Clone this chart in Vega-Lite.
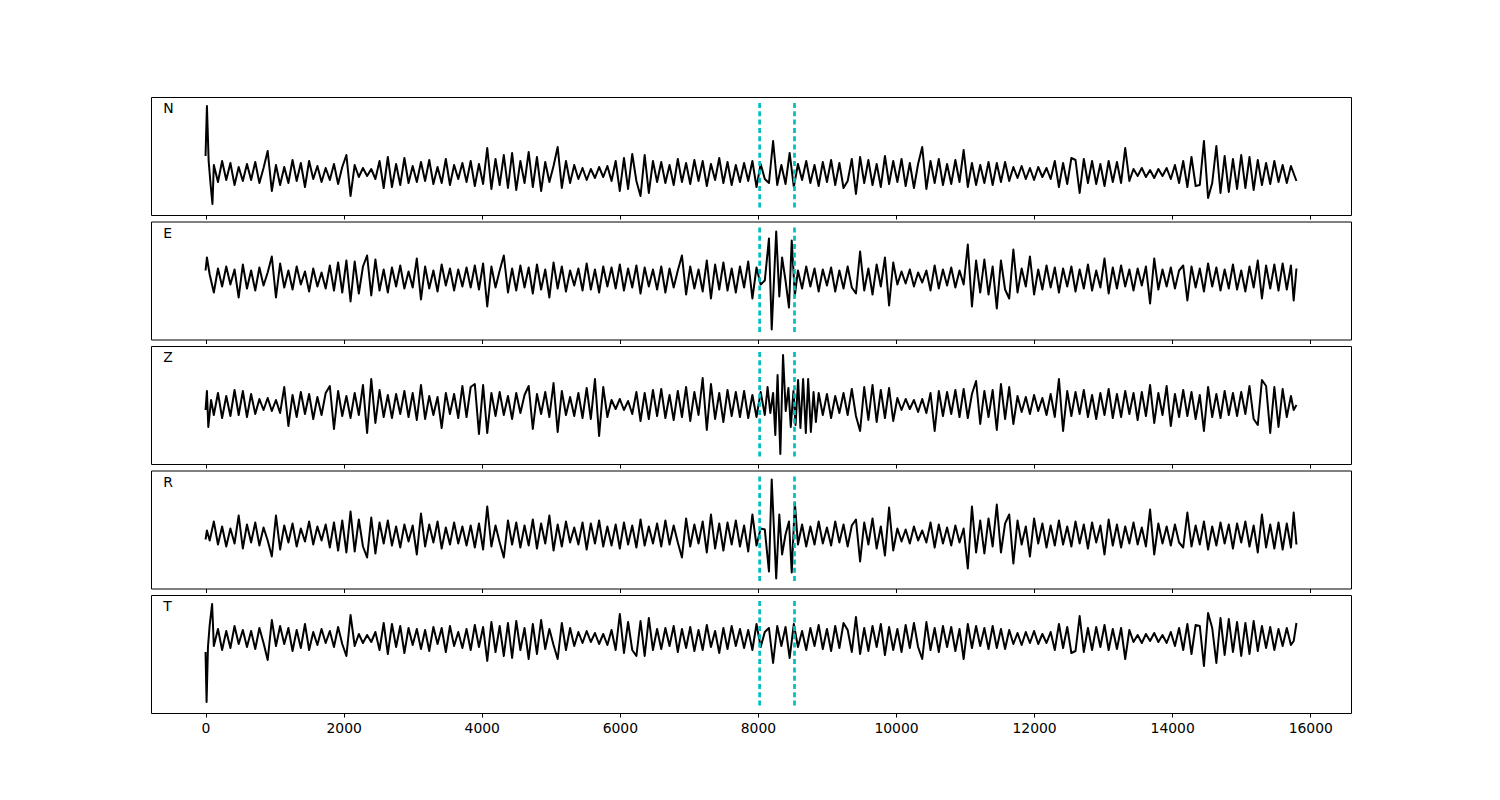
{
"$schema": "https://vega.github.io/schema/vega-lite/v6.json",
"padding": {"left": 150, "top": 96, "right": 0, "bottom": 0},
"background": "white",
"bounds": "flush",
"spacing": 6.5,
"config": {
  "view": {"stroke": "black", "strokeWidth": 1},
  "axis": {"domain": false, "grid": false, "ticks": true, "tickSize": 4, "tickColor": "black", "tickWidth": 1, "labelFont": "DejaVu Sans", "labelFontSize": 13.9, "labelColor": "black", "labelPadding": 4, "labelFlush": false}
},
"resolve": {"scale": {"x": "independent", "y": "independent"}},
"datasets": {
"N": [{"t":0,"v":17},{"t":20,"v":67},{"t":45,"v":12},{"t":75,"v":-13},{"t":100,"v":-31},
{"t":120,"v":8},{"t":180,"v":-9},{"t":240,"v":12},{"t":300,"v":-7},{"t":360,"v":10},{"t":420,"v":-12},{"t":480,"v":6},{"t":540,"v":-8},
{"t":600,"v":9},{"t":660,"v":-7},{"t":720,"v":11},{"t":780,"v":-10},{"t":840,"v":5},{"t":900,"v":22},{"t":960,"v":-18},{"t":1020,"v":8},{"t":1080,"v":-12},{"t":1140,"v":6},
{"t":1200,"v":-10},{"t":1260,"v":13},{"t":1320,"v":-8},{"t":1380,"v":10},{"t":1440,"v":-14},{"t":1500,"v":12},{"t":1560,"v":-6},{"t":1620,"v":7},{"t":1680,"v":-9},{"t":1740,"v":5},
{"t":1800,"v":-7},{"t":1860,"v":9},{"t":1920,"v":-11},{"t":1980,"v":6},{"t":2040,"v":18},{"t":2100,"v":-23},{"t":2160,"v":8},{"t":2220,"v":-4},{"t":2280,"v":5},{"t":2340,"v":-3},
{"t":2400,"v":4},{"t":2460,"v":-6},{"t":2520,"v":12},{"t":2580,"v":-15},{"t":2640,"v":16},{"t":2700,"v":-14},{"t":2760,"v":9},{"t":2820,"v":-12},{"t":2880,"v":15},{"t":2940,"v":-10},
{"t":3000,"v":7},{"t":3060,"v":-9},{"t":3120,"v":11},{"t":3180,"v":-8},{"t":3240,"v":13},{"t":3300,"v":-11},{"t":3360,"v":6},{"t":3420,"v":-10},{"t":3480,"v":14},{"t":3540,"v":-12},
{"t":3600,"v":8},{"t":3660,"v":-6},{"t":3720,"v":10},{"t":3780,"v":-9},{"t":3840,"v":12},{"t":3900,"v":-13},{"t":3960,"v":9},{"t":4020,"v":-11},{"t":4080,"v":25},{"t":4140,"v":-16},
{"t":4200,"v":14},{"t":4260,"v":-12},{"t":4320,"v":18},{"t":4380,"v":-15},{"t":4440,"v":20},{"t":4500,"v":-17},{"t":4560,"v":12},{"t":4620,"v":-10},{"t":4680,"v":21},{"t":4740,"v":-14},
{"t":4800,"v":16},{"t":4860,"v":-18},{"t":4920,"v":11},{"t":4980,"v":-9},{"t":5040,"v":7},{"t":5100,"v":26},{"t":5160,"v":-15},{"t":5220,"v":12},{"t":5280,"v":-10},{"t":5340,"v":8},
{"t":5400,"v":-6},{"t":5460,"v":5},{"t":5520,"v":-7},{"t":5580,"v":4},{"t":5640,"v":-5},{"t":5700,"v":6},{"t":5760,"v":-4},{"t":5820,"v":7},{"t":5880,"v":-8},{"t":5940,"v":12},
{"t":6000,"v":-18},{"t":6060,"v":15},{"t":6120,"v":-16},{"t":6180,"v":19},{"t":6240,"v":-8},{"t":6300,"v":-23},{"t":6360,"v":18},{"t":6420,"v":-20},{"t":6480,"v":12},{"t":6540,"v":-9},
{"t":6600,"v":11},{"t":6660,"v":-10},{"t":6720,"v":8},{"t":6780,"v":-12},{"t":6840,"v":14},{"t":6900,"v":-9},{"t":6960,"v":10},{"t":7020,"v":-11},{"t":7080,"v":13},{"t":7140,"v":-8},
{"t":7200,"v":12},{"t":7260,"v":-13},{"t":7320,"v":9},{"t":7380,"v":-7},{"t":7440,"v":15},{"t":7500,"v":-10},{"t":7560,"v":11},{"t":7620,"v":-12},{"t":7680,"v":8},{"t":7740,"v":-9},
{"t":7800,"v":10},{"t":7860,"v":-8},{"t":7920,"v":12},{"t":7980,"v":-14},{"t":8040,"v":9},{"t":8100,"v":-6},{"t":8160,"v":-10},{"t":8220,"v":32},{"t":8280,"v":-12},{"t":8340,"v":8},
{"t":8400,"v":-11},{"t":8460,"v":20},{"t":8520,"v":-14},{"t":8580,"v":9},{"t":8640,"v":-7},{"t":8700,"v":12},{"t":8760,"v":-10},{"t":8820,"v":8},{"t":8880,"v":-13},{"t":8940,"v":11},
{"t":9000,"v":-9},{"t":9060,"v":13},{"t":9120,"v":-12},{"t":9180,"v":10},{"t":9240,"v":-15},{"t":9300,"v":-8},{"t":9360,"v":14},{"t":9420,"v":-21},{"t":9480,"v":16},{"t":9540,"v":-10},
{"t":9600,"v":13},{"t":9660,"v":-12},{"t":9720,"v":9},{"t":9780,"v":-14},{"t":9840,"v":17},{"t":9900,"v":-11},{"t":9960,"v":12},{"t":10020,"v":-9},{"t":10080,"v":14},{"t":10140,"v":-13},
{"t":10200,"v":10},{"t":10260,"v":-15},{"t":10320,"v":9},{"t":10380,"v":26},{"t":10440,"v":-16},{"t":10500,"v":12},{"t":10560,"v":-10},{"t":10620,"v":14},{"t":10680,"v":-12},{"t":10740,"v":9},
{"t":10800,"v":-11},{"t":10860,"v":13},{"t":10920,"v":-9},{"t":10980,"v":23},{"t":11040,"v":-14},{"t":11100,"v":10},{"t":11160,"v":-12},{"t":11220,"v":8},{"t":11280,"v":-10},{"t":11340,"v":11},
{"t":11400,"v":-12},{"t":11460,"v":10},{"t":11520,"v":-9},{"t":11580,"v":11},{"t":11640,"v":-8},{"t":11700,"v":6},{"t":11760,"v":-5},{"t":11820,"v":7},{"t":11880,"v":-6},{"t":11940,"v":5},
{"t":12000,"v":-7},{"t":12060,"v":6},{"t":12120,"v":-4},{"t":12180,"v":5},{"t":12240,"v":-6},{"t":12300,"v":12},{"t":12360,"v":-14},{"t":12420,"v":10},{"t":12480,"v":-11},{"t":12540,"v":15},
{"t":12600,"v":13},{"t":12660,"v":-20},{"t":12720,"v":14},{"t":12780,"v":-10},{"t":12840,"v":12},{"t":12900,"v":-11},{"t":12960,"v":9},{"t":13020,"v":-13},{"t":13080,"v":12},{"t":13140,"v":-9},
{"t":13200,"v":11},{"t":13260,"v":-10},{"t":13320,"v":25},{"t":13380,"v":-8},{"t":13440,"v":4},{"t":13500,"v":-3},{"t":13560,"v":5},{"t":13620,"v":-4},{"t":13680,"v":3},{"t":13740,"v":-5},
{"t":13800,"v":4},{"t":13860,"v":-3},{"t":13920,"v":5},{"t":13980,"v":-6},{"t":14040,"v":8},{"t":14100,"v":-10},{"t":14160,"v":12},{"t":14220,"v":-14},{"t":14280,"v":16},{"t":14340,"v":-13},
{"t":14400,"v":-12},{"t":14460,"v":32},{"t":14520,"v":-25},{"t":14580,"v":-10},{"t":14640,"v":27},{"t":14700,"v":-20},{"t":14760,"v":17},{"t":14820,"v":-19},{"t":14880,"v":14},{"t":14940,"v":-16},
{"t":15000,"v":18},{"t":15060,"v":-15},{"t":15120,"v":16},{"t":15180,"v":-17},{"t":15240,"v":13},{"t":15300,"v":-12},{"t":15360,"v":10},{"t":15420,"v":-11},{"t":15480,"v":12},{"t":15540,"v":-9},
{"t":15600,"v":8},{"t":15660,"v":-10},{"t":15720,"v":7},{"t":15800,"v":-8}],
"E": [{"t":0,"v":8},{"t":20,"v":21},{"t":60,"v":4},{"t":120,"v":-14},
{"t":180,"v":10},{"t":240,"v":-8},{"t":300,"v":12},{"t":360,"v":-6},{"t":420,"v":9},{"t":480,"v":-19},{"t":540,"v":14},
{"t":600,"v":-10},{"t":660,"v":8},{"t":720,"v":-12},{"t":780,"v":11},{"t":840,"v":-7},{"t":900,"v":6},{"t":960,"v":22},{"t":1020,"v":-19},{"t":1080,"v":15},{"t":1140,"v":-9},
{"t":1200,"v":8},{"t":1260,"v":-11},{"t":1320,"v":12},{"t":1380,"v":-6},{"t":1440,"v":7},{"t":1500,"v":-13},{"t":1560,"v":10},{"t":1620,"v":-8},{"t":1680,"v":6},{"t":1740,"v":-10},
{"t":1800,"v":13},{"t":1860,"v":-12},{"t":1920,"v":16},{"t":1980,"v":-14},{"t":2040,"v":18},{"t":2100,"v":-23},{"t":2160,"v":17},{"t":2220,"v":-15},{"t":2280,"v":12},{"t":2340,"v":23},
{"t":2400,"v":-17},{"t":2460,"v":19},{"t":2520,"v":-12},{"t":2580,"v":9},{"t":2640,"v":-14},{"t":2700,"v":11},{"t":2760,"v":-8},{"t":2820,"v":13},{"t":2880,"v":-10},{"t":2940,"v":7},
{"t":3000,"v":-9},{"t":3060,"v":20},{"t":3120,"v":-21},{"t":3180,"v":12},{"t":3240,"v":-10},{"t":3300,"v":8},{"t":3360,"v":-13},{"t":3420,"v":14},{"t":3480,"v":-7},{"t":3540,"v":10},
{"t":3600,"v":-12},{"t":3660,"v":9},{"t":3720,"v":-8},{"t":3780,"v":11},{"t":3840,"v":-9},{"t":3900,"v":13},{"t":3960,"v":-11},{"t":4020,"v":15},{"t":4080,"v":-28},{"t":4140,"v":12},
{"t":4200,"v":-9},{"t":4260,"v":8},{"t":4320,"v":23},{"t":4380,"v":-14},{"t":4440,"v":10},{"t":4500,"v":-12},{"t":4560,"v":13},{"t":4620,"v":-9},{"t":4680,"v":11},{"t":4740,"v":-15},
{"t":4800,"v":14},{"t":4860,"v":-11},{"t":4920,"v":9},{"t":4980,"v":-19},{"t":5040,"v":16},{"t":5100,"v":-10},{"t":5160,"v":12},{"t":5220,"v":-13},{"t":5280,"v":8},{"t":5340,"v":-7},
{"t":5400,"v":10},{"t":5460,"v":-12},{"t":5520,"v":15},{"t":5580,"v":-11},{"t":5640,"v":9},{"t":5700,"v":-14},{"t":5760,"v":12},{"t":5820,"v":-8},{"t":5880,"v":11},{"t":5940,"v":-10},
{"t":6000,"v":14},{"t":6060,"v":-12},{"t":6120,"v":10},{"t":6180,"v":-9},{"t":6240,"v":13},{"t":6300,"v":-15},{"t":6360,"v":11},{"t":6420,"v":-8},{"t":6480,"v":9},{"t":6540,"v":-11},
{"t":6600,"v":12},{"t":6660,"v":-14},{"t":6720,"v":10},{"t":6780,"v":-9},{"t":6840,"v":8},{"t":6900,"v":23},{"t":6960,"v":-16},{"t":7020,"v":12},{"t":7080,"v":-10},{"t":7140,"v":9},
{"t":7200,"v":-13},{"t":7260,"v":18},{"t":7320,"v":-20},{"t":7380,"v":14},{"t":7440,"v":-11},{"t":7500,"v":16},{"t":7560,"v":-12},{"t":7620,"v":10},{"t":7680,"v":-14},{"t":7740,"v":12},
{"t":7800,"v":-9},{"t":7860,"v":17},{"t":7920,"v":-20},{"t":7980,"v":11},{"t":8040,"v":-6},
{"t":8100,"v":-2},{"t":8160,"v":40},{"t":8200,"v":-51},{"t":8265,"v":47},{"t":8310,"v":-18},{"t":8350,"v":21},{"t":8400,"v":-2},{"t":8450,"v":-29},{"t":8490,"v":38},{"t":8535,"v":-17},{"t":8580,"v":8},
{"t":8640,"v":-10},{"t":8700,"v":12},{"t":8760,"v":-8},{"t":8820,"v":10},{"t":8880,"v":-13},{"t":8940,"v":9},
{"t":9000,"v":-7},{"t":9060,"v":11},{"t":9120,"v":-13},{"t":9180,"v":8},{"t":9240,"v":-10},{"t":9300,"v":12},{"t":9360,"v":-9},{"t":9420,"v":-15},{"t":9480,"v":27},{"t":9540,"v":-12},
{"t":9600,"v":10},{"t":9660,"v":-16},{"t":9720,"v":14},{"t":9780,"v":-8},{"t":9840,"v":21},{"t":9900,"v":-27},{"t":9960,"v":16},{"t":10020,"v":-6},{"t":10080,"v":7},{"t":10140,"v":-5},
{"t":10200,"v":9},{"t":10260,"v":-8},{"t":10320,"v":6},{"t":10380,"v":-4},{"t":10440,"v":8},{"t":10500,"v":-12},{"t":10560,"v":13},{"t":10620,"v":-10},{"t":10680,"v":9},{"t":10740,"v":-7},
{"t":10800,"v":11},{"t":10860,"v":-9},{"t":10920,"v":8},{"t":10980,"v":-6},{"t":11040,"v":34},{"t":11100,"v":-28},{"t":11160,"v":18},{"t":11220,"v":-14},{"t":11280,"v":19},{"t":11340,"v":-16},
{"t":11400,"v":12},{"t":11460,"v":-30},{"t":11520,"v":18},{"t":11580,"v":-11},{"t":11640,"v":-20},{"t":11700,"v":29},{"t":11760,"v":-14},{"t":11820,"v":10},{"t":11880,"v":-8},{"t":11940,"v":22},
{"t":12000,"v":-16},{"t":12060,"v":9},{"t":12120,"v":-11},{"t":12180,"v":13},{"t":12240,"v":-9},{"t":12300,"v":11},{"t":12360,"v":-14},{"t":12420,"v":10},{"t":12480,"v":-8},{"t":12540,"v":12},
{"t":12600,"v":-13},{"t":12660,"v":9},{"t":12720,"v":-10},{"t":12780,"v":14},{"t":12840,"v":-12},{"t":12900,"v":8},{"t":12960,"v":-9},{"t":13020,"v":20},{"t":13080,"v":-15},{"t":13140,"v":11},
{"t":13200,"v":-10},{"t":13260,"v":13},{"t":13320,"v":-8},{"t":13380,"v":9},{"t":13440,"v":-12},{"t":13500,"v":10},{"t":13560,"v":-7},{"t":13620,"v":12},{"t":13680,"v":-25},{"t":13740,"v":20},
{"t":13800,"v":-11},{"t":13860,"v":9},{"t":13920,"v":-8},{"t":13980,"v":11},{"t":14040,"v":-10},{"t":14100,"v":8},{"t":14160,"v":13},{"t":14220,"v":-22},{"t":14280,"v":12},{"t":14340,"v":-9},
{"t":14400,"v":10},{"t":14460,"v":-13},{"t":14520,"v":15},{"t":14580,"v":-8},{"t":14640,"v":11},{"t":14700,"v":-12},{"t":14760,"v":9},{"t":14820,"v":-10},{"t":14880,"v":14},{"t":14940,"v":-11},
{"t":15000,"v":8},{"t":15060,"v":-13},{"t":15120,"v":12},{"t":15180,"v":-9},{"t":15240,"v":18},{"t":15300,"v":-20},{"t":15360,"v":13},{"t":15420,"v":-10},{"t":15480,"v":14},{"t":15540,"v":-12},
{"t":15600,"v":15},{"t":15660,"v":-11},{"t":15720,"v":13},{"t":15760,"v":-22},{"t":15800,"v":10}],
"Z": [{"t":0,"v":-5},{"t":20,"v":14},{"t":40,"v":-22},{"t":80,"v":5},{"t":120,"v":-10},
{"t":180,"v":12},{"t":240,"v":-13},{"t":300,"v":9},{"t":360,"v":-11},{"t":420,"v":15},{"t":480,"v":-10},{"t":540,"v":14},
{"t":600,"v":-12},{"t":660,"v":11},{"t":720,"v":-9},{"t":780,"v":6},{"t":840,"v":-5},{"t":900,"v":7},{"t":960,"v":-6},{"t":1020,"v":5},{"t":1080,"v":-8},{"t":1140,"v":18},
{"t":1200,"v":-21},{"t":1260,"v":10},{"t":1320,"v":-12},{"t":1380,"v":13},{"t":1440,"v":-9},{"t":1500,"v":11},{"t":1560,"v":-14},{"t":1620,"v":8},{"t":1680,"v":-10},{"t":1740,"v":12},
{"t":1800,"v":19},{"t":1860,"v":-24},{"t":1920,"v":14},{"t":1980,"v":-11},{"t":2040,"v":9},{"t":2100,"v":-13},{"t":2160,"v":12},{"t":2220,"v":-10},{"t":2280,"v":20},{"t":2340,"v":-28},
{"t":2400,"v":26},{"t":2460,"v":-18},{"t":2520,"v":15},{"t":2580,"v":-12},{"t":2640,"v":10},{"t":2700,"v":-13},{"t":2760,"v":11},{"t":2820,"v":-9},{"t":2880,"v":14},{"t":2940,"v":-12},
{"t":3000,"v":12},{"t":3060,"v":-15},{"t":3120,"v":20},{"t":3180,"v":-14},{"t":3240,"v":9},{"t":3300,"v":-10},{"t":3360,"v":8},{"t":3420,"v":-23},{"t":3480,"v":12},{"t":3540,"v":-9},
{"t":3600,"v":11},{"t":3660,"v":-13},{"t":3720,"v":19},{"t":3780,"v":-12},{"t":3840,"v":18},{"t":3900,"v":21},{"t":3960,"v":-29},{"t":4020,"v":20},{"t":4080,"v":-28},{"t":4140,"v":12},
{"t":4200,"v":-11},{"t":4260,"v":13},{"t":4320,"v":-10},{"t":4380,"v":9},{"t":4440,"v":-14},{"t":4500,"v":12},{"t":4560,"v":-8},{"t":4620,"v":10},{"t":4680,"v":19},{"t":4740,"v":-24},
{"t":4800,"v":11},{"t":4860,"v":-9},{"t":4920,"v":13},{"t":4980,"v":-12},{"t":5040,"v":22},{"t":5100,"v":-27},{"t":5160,"v":14},{"t":5220,"v":-10},{"t":5280,"v":8},{"t":5340,"v":-11},
{"t":5400,"v":12},{"t":5460,"v":-13},{"t":5520,"v":17},{"t":5580,"v":-14},{"t":5640,"v":26},{"t":5700,"v":-31},{"t":5760,"v":18},{"t":5820,"v":-12},{"t":5880,"v":5},{"t":5940,"v":-4},
{"t":6000,"v":6},{"t":6060,"v":-5},{"t":6120,"v":4},{"t":6180,"v":-9},{"t":6240,"v":13},{"t":6300,"v":-16},{"t":6360,"v":12},{"t":6420,"v":-14},{"t":6480,"v":15},{"t":6540,"v":-11},
{"t":6600,"v":16},{"t":6660,"v":-13},{"t":6720,"v":10},{"t":6780,"v":-15},{"t":6840,"v":14},{"t":6900,"v":-12},{"t":6960,"v":18},{"t":7020,"v":-16},{"t":7080,"v":13},{"t":7140,"v":-10},
{"t":7200,"v":27},{"t":7260,"v":-25},{"t":7320,"v":21},{"t":7380,"v":-14},{"t":7440,"v":12},{"t":7500,"v":-17},{"t":7560,"v":15},{"t":7620,"v":-11},{"t":7680,"v":13},{"t":7740,"v":-12},
{"t":7800,"v":14},{"t":7860,"v":-13},{"t":7920,"v":10},{"t":7980,"v":-12},{"t":8040,"v":13},
{"t":8100,"v":-10},{"t":8140,"v":18},{"t":8180,"v":-8},{"t":8220,"v":12},{"t":8252,"v":-30},{"t":8285,"v":30},{"t":8325,"v":-49},{"t":8364,"v":50},{"t":8403,"v":-6},{"t":8442,"v":17},{"t":8476,"v":-22},{"t":8515,"v":14},{"t":8545,"v":-20},{"t":8582,"v":25},{"t":8616,"v":-23},{"t":8655,"v":26},{"t":8694,"v":-28},{"t":8728,"v":26},{"t":8767,"v":-27},{"t":8806,"v":13},{"t":8840,"v":-17},{"t":8880,"v":12},
{"t":8940,"v":-10},{"t":9000,"v":11},{"t":9060,"v":-13},{"t":9120,"v":9},{"t":9180,"v":-8},{"t":9240,"v":12},{"t":9300,"v":-10},{"t":9360,"v":16},{"t":9420,"v":-11},{"t":9480,"v":-26},{"t":9540,"v":18},
{"t":9600,"v":-15},{"t":9660,"v":20},{"t":9720,"v":-17},{"t":9780,"v":15},{"t":9840,"v":-13},{"t":9900,"v":17},{"t":9960,"v":-16},{"t":10020,"v":7},{"t":10080,"v":-5},{"t":10140,"v":6},
{"t":10200,"v":-4},{"t":10260,"v":5},{"t":10320,"v":-7},{"t":10380,"v":6},{"t":10440,"v":-8},{"t":10500,"v":12},{"t":10560,"v":-26},{"t":10620,"v":14},{"t":10680,"v":-11},{"t":10740,"v":13},
{"t":10800,"v":-9},{"t":10860,"v":15},{"t":10920,"v":-12},{"t":10980,"v":16},{"t":11040,"v":-13},{"t":11100,"v":11},{"t":11160,"v":24},{"t":11220,"v":-19},{"t":11280,"v":14},{"t":11340,"v":-12},
{"t":11400,"v":15},{"t":11460,"v":-25},{"t":11520,"v":21},{"t":11580,"v":-14},{"t":11640,"v":18},{"t":11700,"v":-19},{"t":11760,"v":9},{"t":11820,"v":-7},{"t":11880,"v":8},{"t":11940,"v":-9},
{"t":12000,"v":10},{"t":12060,"v":-6},{"t":12120,"v":7},{"t":12180,"v":-10},{"t":12240,"v":11},{"t":12300,"v":-12},{"t":12360,"v":26},{"t":12420,"v":-26},{"t":12480,"v":14},{"t":12540,"v":-11},
{"t":12600,"v":13},{"t":12660,"v":-9},{"t":12720,"v":15},{"t":12780,"v":-12},{"t":12840,"v":10},{"t":12900,"v":-14},{"t":12960,"v":12},{"t":13020,"v":-10},{"t":13080,"v":16},{"t":13140,"v":-13},
{"t":13200,"v":11},{"t":13260,"v":-12},{"t":13320,"v":14},{"t":13380,"v":-9},{"t":13440,"v":12},{"t":13500,"v":-15},{"t":13560,"v":13},{"t":13620,"v":-11},{"t":13680,"v":20},{"t":13740,"v":-18},
{"t":13800,"v":12},{"t":13860,"v":-10},{"t":13920,"v":19},{"t":13980,"v":-21},{"t":14040,"v":11},{"t":14100,"v":-12},{"t":14160,"v":15},{"t":14220,"v":-11},{"t":14280,"v":13},{"t":14340,"v":-14},
{"t":14400,"v":10},{"t":14460,"v":-26},{"t":14520,"v":18},{"t":14580,"v":-12},{"t":14640,"v":11},{"t":14700,"v":-13},{"t":14760,"v":14},{"t":14820,"v":-10},{"t":14880,"v":12},{"t":14940,"v":-11},
{"t":15000,"v":13},{"t":15060,"v":-9},{"t":15120,"v":19},{"t":15180,"v":-14},{"t":15240,"v":-20},{"t":15300,"v":25},{"t":15360,"v":19},{"t":15420,"v":-28},{"t":15480,"v":18},{"t":15540,"v":-22},
{"t":15600,"v":16},{"t":15660,"v":-12},{"t":15720,"v":9},{"t":15760,"v":-5},{"t":15800,"v":0}],
"R": [{"t":0,"v":-5},{"t":20,"v":4},{"t":60,"v":-6},{"t":120,"v":13},
{"t":180,"v":-10},{"t":240,"v":8},{"t":300,"v":-12},{"t":360,"v":6},{"t":420,"v":-9},{"t":480,"v":19},{"t":540,"v":-14},
{"t":600,"v":10},{"t":660,"v":-8},{"t":720,"v":12},{"t":780,"v":-11},{"t":840,"v":7},{"t":900,"v":-6},{"t":960,"v":-22},{"t":1020,"v":19},{"t":1080,"v":-15},{"t":1140,"v":9},
{"t":1200,"v":-8},{"t":1260,"v":11},{"t":1320,"v":-12},{"t":1380,"v":6},{"t":1440,"v":-7},{"t":1500,"v":13},{"t":1560,"v":-10},{"t":1620,"v":8},{"t":1680,"v":-6},{"t":1740,"v":10},
{"t":1800,"v":-13},{"t":1860,"v":12},{"t":1920,"v":-16},{"t":1980,"v":14},{"t":2040,"v":-18},{"t":2100,"v":23},{"t":2160,"v":-17},{"t":2220,"v":15},{"t":2280,"v":-12},{"t":2340,"v":-23},
{"t":2400,"v":17},{"t":2460,"v":-19},{"t":2520,"v":12},{"t":2580,"v":-9},{"t":2640,"v":14},{"t":2700,"v":-11},{"t":2760,"v":8},{"t":2820,"v":-13},{"t":2880,"v":10},{"t":2940,"v":-7},
{"t":3000,"v":9},{"t":3060,"v":-20},{"t":3120,"v":21},{"t":3180,"v":-12},{"t":3240,"v":10},{"t":3300,"v":-8},{"t":3360,"v":13},{"t":3420,"v":-14},{"t":3480,"v":7},{"t":3540,"v":-10},
{"t":3600,"v":12},{"t":3660,"v":-9},{"t":3720,"v":8},{"t":3780,"v":-11},{"t":3840,"v":9},{"t":3900,"v":-13},{"t":3960,"v":11},{"t":4020,"v":-15},{"t":4080,"v":28},{"t":4140,"v":-12},
{"t":4200,"v":9},{"t":4260,"v":-8},{"t":4320,"v":-23},{"t":4380,"v":14},{"t":4440,"v":-10},{"t":4500,"v":12},{"t":4560,"v":-13},{"t":4620,"v":9},{"t":4680,"v":-11},{"t":4740,"v":15},
{"t":4800,"v":-14},{"t":4860,"v":11},{"t":4920,"v":-9},{"t":4980,"v":19},{"t":5040,"v":-16},{"t":5100,"v":10},{"t":5160,"v":-12},{"t":5220,"v":13},{"t":5280,"v":-8},{"t":5340,"v":7},
{"t":5400,"v":-10},{"t":5460,"v":12},{"t":5520,"v":-15},{"t":5580,"v":11},{"t":5640,"v":-9},{"t":5700,"v":14},{"t":5760,"v":-12},{"t":5820,"v":8},{"t":5880,"v":-11},{"t":5940,"v":10},
{"t":6000,"v":-14},{"t":6060,"v":12},{"t":6120,"v":-10},{"t":6180,"v":9},{"t":6240,"v":-13},{"t":6300,"v":15},{"t":6360,"v":-11},{"t":6420,"v":8},{"t":6480,"v":-9},{"t":6540,"v":11},
{"t":6600,"v":-12},{"t":6660,"v":14},{"t":6720,"v":-10},{"t":6780,"v":9},{"t":6840,"v":-8},{"t":6900,"v":-23},{"t":6960,"v":16},{"t":7020,"v":-12},{"t":7080,"v":10},{"t":7140,"v":-9},
{"t":7200,"v":13},{"t":7260,"v":-18},{"t":7320,"v":20},{"t":7380,"v":-14},{"t":7440,"v":11},{"t":7500,"v":-16},{"t":7560,"v":12},{"t":7620,"v":-10},{"t":7680,"v":14},{"t":7740,"v":-12},
{"t":7800,"v":9},{"t":7860,"v":-17},{"t":7920,"v":20},{"t":7980,"v":-11},{"t":8040,"v":6},
{"t":8100,"v":5},{"t":8160,"v":-37},{"t":8200,"v":55},{"t":8265,"v":-44},{"t":8310,"v":20},{"t":8350,"v":-20},{"t":8400,"v":0},{"t":8450,"v":13},{"t":8490,"v":-38},{"t":8535,"v":32},{"t":8580,"v":-10},
{"t":8640,"v":10},{"t":8700,"v":-12},{"t":8760,"v":8},{"t":8820,"v":-10},{"t":8880,"v":13},{"t":8940,"v":-9},
{"t":9000,"v":7},{"t":9060,"v":-11},{"t":9120,"v":13},{"t":9180,"v":-8},{"t":9240,"v":10},{"t":9300,"v":-12},{"t":9360,"v":9},{"t":9420,"v":15},{"t":9480,"v":-27},{"t":9540,"v":12},
{"t":9600,"v":-10},{"t":9660,"v":16},{"t":9720,"v":-14},{"t":9780,"v":8},{"t":9840,"v":-21},{"t":9900,"v":27},{"t":9960,"v":-16},{"t":10020,"v":6},{"t":10080,"v":-7},{"t":10140,"v":5},
{"t":10200,"v":-9},{"t":10260,"v":8},{"t":10320,"v":-6},{"t":10380,"v":4},{"t":10440,"v":-8},{"t":10500,"v":12},{"t":10560,"v":-13},{"t":10620,"v":10},{"t":10680,"v":-9},{"t":10740,"v":7},
{"t":10800,"v":-11},{"t":10860,"v":9},{"t":10920,"v":-8},{"t":10980,"v":6},{"t":11040,"v":-34},{"t":11100,"v":28},{"t":11160,"v":-18},{"t":11220,"v":14},{"t":11280,"v":-19},{"t":11340,"v":16},
{"t":11400,"v":-12},{"t":11460,"v":30},{"t":11520,"v":-18},{"t":11580,"v":11},{"t":11640,"v":20},{"t":11700,"v":-29},{"t":11760,"v":14},{"t":11820,"v":-10},{"t":11880,"v":8},{"t":11940,"v":-22},
{"t":12000,"v":16},{"t":12060,"v":-9},{"t":12120,"v":11},{"t":12180,"v":-13},{"t":12240,"v":9},{"t":12300,"v":-11},{"t":12360,"v":14},{"t":12420,"v":-10},{"t":12480,"v":8},{"t":12540,"v":-12},
{"t":12600,"v":13},{"t":12660,"v":-9},{"t":12720,"v":10},{"t":12780,"v":-14},{"t":12840,"v":12},{"t":12900,"v":-8},{"t":12960,"v":9},{"t":13020,"v":-20},{"t":13080,"v":15},{"t":13140,"v":-11},
{"t":13200,"v":10},{"t":13260,"v":-13},{"t":13320,"v":8},{"t":13380,"v":-9},{"t":13440,"v":12},{"t":13500,"v":-10},{"t":13560,"v":7},{"t":13620,"v":-12},{"t":13680,"v":25},{"t":13740,"v":-20},
{"t":13800,"v":11},{"t":13860,"v":-9},{"t":13920,"v":8},{"t":13980,"v":-11},{"t":14040,"v":10},{"t":14100,"v":-8},{"t":14160,"v":-13},{"t":14220,"v":22},{"t":14280,"v":-12},{"t":14340,"v":9},
{"t":14400,"v":-10},{"t":14460,"v":13},{"t":14520,"v":-15},{"t":14580,"v":8},{"t":14640,"v":-11},{"t":14700,"v":12},{"t":14760,"v":-9},{"t":14820,"v":10},{"t":14880,"v":-14},{"t":14940,"v":11},
{"t":15000,"v":-8},{"t":15060,"v":13},{"t":15120,"v":-12},{"t":15180,"v":9},{"t":15240,"v":-18},{"t":15300,"v":20},{"t":15360,"v":-13},{"t":15420,"v":10},{"t":15480,"v":-14},{"t":15540,"v":12},
{"t":15600,"v":-15},{"t":15660,"v":11},{"t":15720,"v":-13},{"t":15760,"v":22},{"t":15800,"v":-10}],
"T": [{"t":0,"v":-14},{"t":15,"v":-64},{"t":35,"v":-9},{"t":60,"v":13},{"t":95,"v":34},
{"t":120,"v":-8},{"t":180,"v":9},{"t":240,"v":-12},{"t":300,"v":7},{"t":360,"v":-10},{"t":420,"v":12},{"t":480,"v":-6},{"t":540,"v":8},
{"t":600,"v":-9},{"t":660,"v":7},{"t":720,"v":-11},{"t":780,"v":10},{"t":840,"v":-5},{"t":900,"v":-22},{"t":960,"v":18},{"t":1020,"v":-8},{"t":1080,"v":12},{"t":1140,"v":-6},
{"t":1200,"v":10},{"t":1260,"v":-13},{"t":1320,"v":8},{"t":1380,"v":-10},{"t":1440,"v":14},{"t":1500,"v":-12},{"t":1560,"v":6},{"t":1620,"v":-7},{"t":1680,"v":9},{"t":1740,"v":-5},
{"t":1800,"v":7},{"t":1860,"v":-9},{"t":1920,"v":11},{"t":1980,"v":-6},{"t":2040,"v":-18},{"t":2100,"v":23},{"t":2160,"v":-8},{"t":2220,"v":4},{"t":2280,"v":-5},{"t":2340,"v":3},
{"t":2400,"v":-4},{"t":2460,"v":6},{"t":2520,"v":-12},{"t":2580,"v":15},{"t":2640,"v":-16},{"t":2700,"v":14},{"t":2760,"v":-9},{"t":2820,"v":12},{"t":2880,"v":-15},{"t":2940,"v":10},
{"t":3000,"v":-7},{"t":3060,"v":9},{"t":3120,"v":-11},{"t":3180,"v":8},{"t":3240,"v":-13},{"t":3300,"v":11},{"t":3360,"v":-6},{"t":3420,"v":10},{"t":3480,"v":-14},{"t":3540,"v":12},
{"t":3600,"v":-8},{"t":3660,"v":6},{"t":3720,"v":-10},{"t":3780,"v":9},{"t":3840,"v":-12},{"t":3900,"v":13},{"t":3960,"v":-9},{"t":4020,"v":11},{"t":4080,"v":-23},{"t":4140,"v":16},
{"t":4200,"v":-14},{"t":4260,"v":12},{"t":4320,"v":-18},{"t":4380,"v":15},{"t":4440,"v":-20},{"t":4500,"v":17},{"t":4560,"v":-12},{"t":4620,"v":10},{"t":4680,"v":-21},{"t":4740,"v":14},
{"t":4800,"v":-16},{"t":4860,"v":18},{"t":4920,"v":-11},{"t":4980,"v":9},{"t":5040,"v":-7},{"t":5100,"v":-21},{"t":5160,"v":15},{"t":5220,"v":-12},{"t":5280,"v":10},{"t":5340,"v":-8},
{"t":5400,"v":6},{"t":5460,"v":-5},{"t":5520,"v":7},{"t":5580,"v":-4},{"t":5640,"v":5},{"t":5700,"v":-6},{"t":5760,"v":4},{"t":5820,"v":-7},{"t":5880,"v":8},{"t":5940,"v":-12},
{"t":6000,"v":24},{"t":6060,"v":-15},{"t":6120,"v":16},{"t":6180,"v":-12},{"t":6240,"v":-18},{"t":6300,"v":17},{"t":6360,"v":-18},{"t":6420,"v":20},{"t":6480,"v":-12},{"t":6540,"v":9},
{"t":6600,"v":-11},{"t":6660,"v":10},{"t":6720,"v":-8},{"t":6780,"v":12},{"t":6840,"v":-14},{"t":6900,"v":9},{"t":6960,"v":-10},{"t":7020,"v":11},{"t":7080,"v":-13},{"t":7140,"v":8},
{"t":7200,"v":-12},{"t":7260,"v":13},{"t":7320,"v":-9},{"t":7380,"v":7},{"t":7440,"v":-15},{"t":7500,"v":10},{"t":7560,"v":-11},{"t":7620,"v":12},{"t":7680,"v":-8},{"t":7740,"v":9},
{"t":7800,"v":-10},{"t":7860,"v":8},{"t":7920,"v":-12},{"t":7980,"v":14},{"t":8040,"v":-9},{"t":8100,"v":6},{"t":8160,"v":10},{"t":8220,"v":-25},{"t":8280,"v":12},{"t":8340,"v":-8},
{"t":8400,"v":11},{"t":8460,"v":-20},{"t":8520,"v":14},{"t":8580,"v":-9},{"t":8640,"v":7},{"t":8700,"v":-12},{"t":8760,"v":10},{"t":8820,"v":-8},{"t":8880,"v":13},{"t":8940,"v":-11},
{"t":9000,"v":9},{"t":9060,"v":-13},{"t":9120,"v":12},{"t":9180,"v":-10},{"t":9240,"v":15},{"t":9300,"v":8},{"t":9360,"v":-14},{"t":9420,"v":21},{"t":9480,"v":-16},{"t":9540,"v":10},
{"t":9600,"v":-13},{"t":9660,"v":12},{"t":9720,"v":-9},{"t":9780,"v":14},{"t":9840,"v":-17},{"t":9900,"v":11},{"t":9960,"v":-12},{"t":10020,"v":9},{"t":10080,"v":-14},{"t":10140,"v":13},
{"t":10200,"v":-10},{"t":10260,"v":15},{"t":10320,"v":-9},{"t":10380,"v":-21},{"t":10440,"v":16},{"t":10500,"v":-12},{"t":10560,"v":10},{"t":10620,"v":-14},{"t":10680,"v":12},{"t":10740,"v":-9},
{"t":10800,"v":11},{"t":10860,"v":-13},{"t":10920,"v":9},{"t":10980,"v":-21},{"t":11040,"v":14},{"t":11100,"v":-10},{"t":11160,"v":12},{"t":11220,"v":-8},{"t":11280,"v":10},{"t":11340,"v":-11},
{"t":11400,"v":12},{"t":11460,"v":-10},{"t":11520,"v":9},{"t":11580,"v":-11},{"t":11640,"v":8},{"t":11700,"v":-6},{"t":11760,"v":5},{"t":11820,"v":-7},{"t":11880,"v":6},{"t":11940,"v":-5},
{"t":12000,"v":7},{"t":12060,"v":-6},{"t":12120,"v":4},{"t":12180,"v":-5},{"t":12240,"v":6},{"t":12300,"v":-12},{"t":12360,"v":14},{"t":12420,"v":-10},{"t":12480,"v":11},{"t":12540,"v":-15},
{"t":12600,"v":-13},{"t":12660,"v":22},{"t":12720,"v":-14},{"t":12780,"v":10},{"t":12840,"v":-12},{"t":12900,"v":11},{"t":12960,"v":-9},{"t":13020,"v":13},{"t":13080,"v":-12},{"t":13140,"v":9},
{"t":13200,"v":-11},{"t":13260,"v":10},{"t":13320,"v":-21},{"t":13380,"v":8},{"t":13440,"v":-4},{"t":13500,"v":3},{"t":13560,"v":-5},{"t":13620,"v":4},{"t":13680,"v":-3},{"t":13740,"v":5},
{"t":13800,"v":-4},{"t":13860,"v":3},{"t":13920,"v":-5},{"t":13980,"v":6},{"t":14040,"v":-8},{"t":14100,"v":10},{"t":14160,"v":-12},{"t":14220,"v":14},{"t":14280,"v":-16},{"t":14340,"v":13},
{"t":14400,"v":12},{"t":14460,"v":-28},{"t":14520,"v":25},{"t":14580,"v":10},{"t":14640,"v":-25},{"t":14700,"v":20},{"t":14760,"v":-17},{"t":14820,"v":19},{"t":14880,"v":-14},{"t":14940,"v":16},
{"t":15000,"v":-18},{"t":15060,"v":15},{"t":15120,"v":-16},{"t":15180,"v":17},{"t":15240,"v":-13},{"t":15300,"v":12},{"t":15360,"v":-10},{"t":15420,"v":11},{"t":15480,"v":-12},{"t":15540,"v":9},
{"t":15600,"v":-8},{"t":15660,"v":10},{"t":15720,"v":-7},{"t":15760,"v":-3},{"t":15800,"v":15}]
},
"vconcat": [
{"width":1200,"height":118,
 "encoding":{"x":{"field":"t","type":"quantitative","title":null,"scale":{"domain":[-790,16590],"nice":false,"zero":false},"axis":{"values":[0,2000,4000,6000,8000,10000,12000,14000,16000],"labels":false}},
             "y":{"field":"v","type":"quantitative","title":null,"scale":{"domain":[-42,76],"nice":false,"zero":false},"axis":null}},
 "layer":[
  {"data":{"name":"N"},"mark":{"type":"line","color":"black","strokeWidth":2,"strokeJoin":"round"}},
  {"data":{"values":[{"t":8025,"v":70,"v2":-37},{"t":8530,"v":70,"v2":-37}]},"mark":{"type":"rule","color":"#00bfbf","strokeWidth":2.7,"strokeDash":[5,3.3]},"encoding":{"y2":{"field":"v2"}}},
  {"data":{"values":[{"t":-614,"v":64,"lab":"N"}]},"mark":{"type":"text","align":"left","baseline":"middle","font":"DejaVu Sans","fontSize":13.9,"color":"black"},"encoding":{"text":{"field":"lab"}}}
 ]},
{"width":1200,"height":118,
 "encoding":{"x":{"field":"t","type":"quantitative","title":null,"scale":{"domain":[-790,16590],"nice":false,"zero":false},"axis":{"values":[0,2000,4000,6000,8000,10000,12000,14000,16000],"labels":false}},
             "y":{"field":"v","type":"quantitative","title":null,"scale":{"domain":[-61,57],"nice":false,"zero":false},"axis":null}},
 "layer":[
  {"data":{"name":"E"},"mark":{"type":"line","color":"black","strokeWidth":2,"strokeJoin":"round"}},
  {"data":{"values":[{"t":8025,"v":51,"v2":-56},{"t":8530,"v":51,"v2":-56}]},"mark":{"type":"rule","color":"#00bfbf","strokeWidth":2.7,"strokeDash":[5,3.3]},"encoding":{"y2":{"field":"v2"}}},
  {"data":{"values":[{"t":-614,"v":45,"lab":"E"}]},"mark":{"type":"text","align":"left","baseline":"middle","font":"DejaVu Sans","fontSize":13.9,"color":"black"},"encoding":{"text":{"field":"lab"}}}
 ]},
{"width":1200,"height":118,
 "encoding":{"x":{"field":"t","type":"quantitative","title":null,"scale":{"domain":[-790,16590],"nice":false,"zero":false},"axis":{"values":[0,2000,4000,6000,8000,10000,12000,14000,16000],"labels":false}},
             "y":{"field":"v","type":"quantitative","title":null,"scale":{"domain":[-59,59],"nice":false,"zero":false},"axis":null}},
 "layer":[
  {"data":{"name":"Z"},"mark":{"type":"line","color":"black","strokeWidth":2,"strokeJoin":"round"}},
  {"data":{"values":[{"t":8025,"v":53,"v2":-54},{"t":8530,"v":53,"v2":-54}]},"mark":{"type":"rule","color":"#00bfbf","strokeWidth":2.7,"strokeDash":[5,3.3]},"encoding":{"y2":{"field":"v2"}}},
  {"data":{"values":[{"t":-614,"v":47,"lab":"Z"}]},"mark":{"type":"text","align":"left","baseline":"middle","font":"DejaVu Sans","fontSize":13.9,"color":"black"},"encoding":{"text":{"field":"lab"}}}
 ]},
{"width":1200,"height":118,
 "encoding":{"x":{"field":"t","type":"quantitative","title":null,"scale":{"domain":[-790,16590],"nice":false,"zero":false},"axis":{"values":[0,2000,4000,6000,8000,10000,12000,14000,16000],"labels":false}},
             "y":{"field":"v","type":"quantitative","title":null,"scale":{"domain":[-54,64],"nice":false,"zero":false},"axis":null}},
 "layer":[
  {"data":{"name":"R"},"mark":{"type":"line","color":"black","strokeWidth":2,"strokeJoin":"round"}},
  {"data":{"values":[{"t":8025,"v":58,"v2":-49},{"t":8530,"v":58,"v2":-49}]},"mark":{"type":"rule","color":"#00bfbf","strokeWidth":2.7,"strokeDash":[5,3.3]},"encoding":{"y2":{"field":"v2"}}},
  {"data":{"values":[{"t":-614,"v":52,"lab":"R"}]},"mark":{"type":"text","align":"left","baseline":"middle","font":"DejaVu Sans","fontSize":13.9,"color":"black"},"encoding":{"text":{"field":"lab"}}}
 ]},
{"width":1200,"height":118,
 "encoding":{"x":{"field":"t","type":"quantitative","title":null,"scale":{"domain":[-790,16590],"nice":false,"zero":false},"axis":{"values":[0,2000,4000,6000,8000,10000,12000,14000,16000],"labels":true,"format":"d"}},
             "y":{"field":"v","type":"quantitative","title":null,"scale":{"domain":[-75,43],"nice":false,"zero":false},"axis":null}},
 "layer":[
  {"data":{"name":"T"},"mark":{"type":"line","color":"black","strokeWidth":2,"strokeJoin":"round"}},
  {"data":{"values":[{"t":8025,"v":37,"v2":-70},{"t":8530,"v":37,"v2":-70}]},"mark":{"type":"rule","color":"#00bfbf","strokeWidth":2.7,"strokeDash":[5,3.3]},"encoding":{"y2":{"field":"v2"}}},
  {"data":{"values":[{"t":-614,"v":31,"lab":"T"}]},"mark":{"type":"text","align":"left","baseline":"middle","font":"DejaVu Sans","fontSize":13.9,"color":"black"},"encoding":{"text":{"field":"lab"}}}
 ]}
]
}
